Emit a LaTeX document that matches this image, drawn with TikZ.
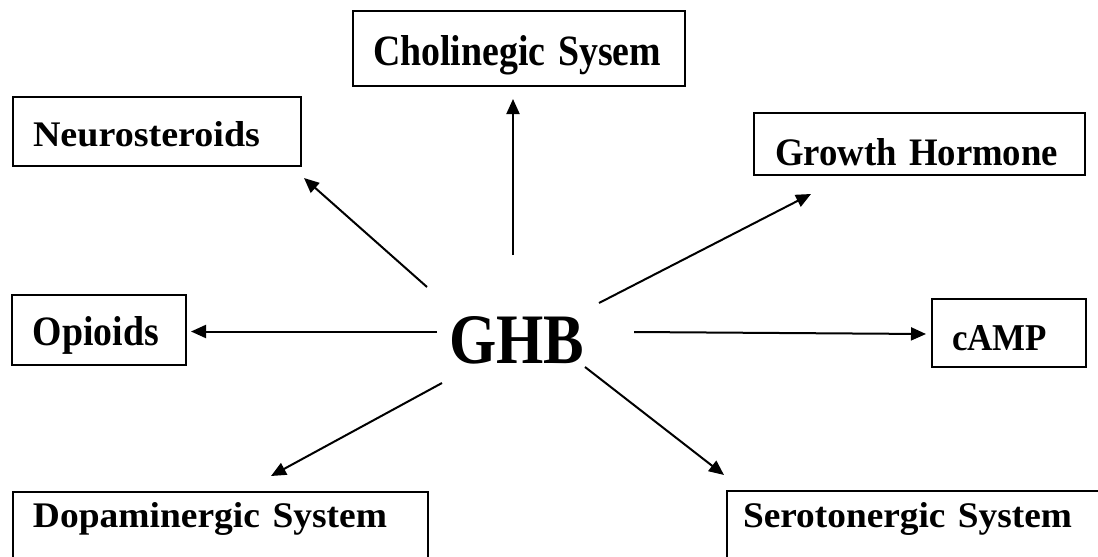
\documentclass[tikz,border=0pt]{standalone}
\usepackage{fontspec}
\setmainfont{Liberation Serif}
\usetikzlibrary{arrows.meta}
\begin{document}
\begin{tikzpicture}[x=1pt,y=-1pt,
  box/.style={draw, line width=2pt, inner ysep=0pt, align=left},
  arr/.style={line width=2pt, -{Triangle[length=15pt,width=13pt]}}]
\useasboundingbox (0,0) rectangle (1098,557);
% boxes
\node[box, minimum width=332pt, minimum height=75pt, inner xsep=20pt, text width=292pt, text height=33pt, text depth=0pt]
  (chol) at (519,48.5) {\resizebox{288pt}{30pt}{\bfseries Cholinegic Sysem}};
\node[box, minimum width=288pt, minimum height=69pt, inner xsep=20pt, text width=248pt, text height=29pt, text depth=0pt]
  (neuro) at (157,131.5) {\resizebox{227pt}{25pt}{\bfseries Neurosteroids}};
\node[box, minimum width=331pt, minimum height=62pt, inner xsep=21pt, text width=289pt, text height=42pt, text depth=0pt]
  (growth) at (919.5,144) {\resizebox{283pt}{27pt}{\bfseries Growth Hormone}};
\node[box, minimum width=174pt, minimum height=70pt, inner xsep=21pt, text width=132pt, text height=31.4pt, text depth=0pt]
  (opioids) at (99,330) {\resizebox{126pt}{29pt}{\bfseries Opioids}};
\node[box, minimum width=154pt, minimum height=68pt, inner xsep=20pt, text width=114pt, text height=34pt, text depth=0pt]
  (camp) at (1009,333) {\resizebox{95pt}{25pt}{\bfseries cAMP}};
\node[box, minimum width=415pt, minimum height=108pt, inner xsep=20pt, text width=375pt, text height=0pt, text depth=38pt]
  (dopa) at (220.5,546) {\resizebox{354pt}{25pt}{\bfseries Dopaminergic System}};
\node[box, minimum width=403pt, minimum height=109pt, inner xsep=16pt, text width=371pt, text height=0pt, text depth=37pt]
  (sero) at (928.5,545.5) {\resizebox{329pt}{25pt}{\bfseries Serotonergic System}};
% centre
\node[inner sep=0pt, anchor=base west] (ghb) at (449,363) {\resizebox{135pt}{47pt}{\bfseries GHB}};
% arrow starts around GHB
\coordinate (g-up) at (513,255);
\coordinate (g-nw) at (427,287);
\coordinate (g-ne) at (599,303);
\coordinate (g-w) at (437,331.5);
\coordinate (g-e) at (634,332);
\coordinate (g-sw) at (442,383);
\coordinate (g-se) at (585,367);
% arrow tips near boxes
\coordinate (t-chol) at ([xshift=-6pt,yshift=-12pt]chol.south);
\coordinate (t-neuro) at ([xshift=2pt,yshift=-11pt]neuro.south east);
\coordinate (t-growth) at ([xshift=58pt,yshift=-18pt]growth.south west);
\coordinate (t-opioids) at ([xshift=4pt,yshift=-1.5pt]opioids.east);
\coordinate (t-camp) at ([xshift=-5pt,yshift=-1pt]camp.west);
\coordinate (t-dopa) at ([xshift=259pt,yshift=15pt]dopa.north west);
\coordinate (t-sero) at ([xshift=-2pt,yshift=15pt]sero.north west);
% connectors
\draw[arr] (g-up) -- (t-chol);
\draw[arr] (g-nw) -- (t-neuro);
\draw[arr] (g-ne) -- (t-growth);
\draw[arr] (g-w) -- (t-opioids);
\draw[arr] (g-e) -- (t-camp);
\draw[arr] (g-sw) -- (t-dopa);
\draw[arr] (g-se) -- (t-sero);
\end{tikzpicture}
\end{document}
